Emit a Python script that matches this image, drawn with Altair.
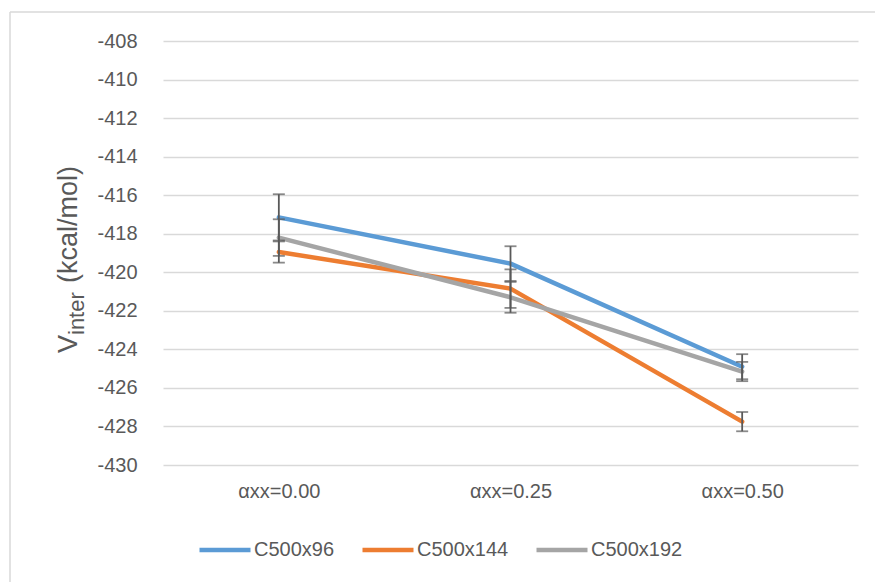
import altair as alt
import pandas as pd

categories = ["αxx=0.00", "αxx=0.25", "αxx=0.50"]
series_names = ["C500x96", "C500x144", "C500x192"]
series_colors = ["#5B9BD5", "#ED7D31", "#A5A5A5"]
values_c96 = [-417.15, -419.55, -424.9]
values_c144 = [-418.95, -420.85, -427.75]
values_c192 = [-418.2, -421.3, -425.15]
errors_c96 = [1.2, 0.9, 0.65]
errors_c144 = [0.55, 1.0, 0.5]
errors_c192 = [0.95, 0.8, 0.5]
y_ticks = [-430, -428, -426, -424, -422, -420, -418, -416, -414, -412, -410, -408]

rows = []
for name, vals, errs in [("C500x96", values_c96, errors_c96),
                         ("C500x144", values_c144, errors_c144),
                         ("C500x192", values_c192, errors_c192)]:
    for i, (c, v, e) in enumerate(zip(categories, vals, errs)):
        rows.append({"series": name, "cat": c, "order": i, "v": v,
                     "lo": v - e, "hi": v + e})
df = pd.DataFrame(rows)

FONT = "Liberation Sans"
TXT = "#595959"

x_scale = alt.Scale(type="point", padding=0.5)
y_scale = alt.Scale(domain=[-430, -408], nice=False, zero=False)

x_axis = alt.Axis(title=None, domain=False, ticks=False, grid=False, labelFontSize=20,
                  labelColor=TXT, labelFont=FONT, labelPadding=16, labelAngle=0)
y_axis = alt.Axis(values=y_ticks, title=None, domain=False, ticks=False,
                  grid=True, gridColor="#D9D9D9", gridWidth=1.5,
                  labelOverlap=False, labelExpr="toString(datum.value)",
                  labelFontSize=20, labelColor=TXT, labelFont=FONT, labelPadding=26)

x_enc = alt.X("cat:N", sort=categories, scale=x_scale, axis=x_axis)

lines = alt.Chart(df).mark_line(strokeWidth=4.5, strokeCap="round", strokeJoin="round").encode(
    x=x_enc,
    y=alt.Y("v:Q", scale=y_scale, axis=y_axis),
    color=alt.Color("series:N", sort=series_names,
                    scale=alt.Scale(domain=series_names, range=series_colors),
                    legend=alt.Legend(title=None, orient="none", direction="horizontal",
                                      legendX=34, legendY=481, symbolType="stroke",
                                      symbolSize=2601, symbolStrokeWidth=4.5,
                                      labelFontSize=20, labelColor=TXT, labelFont=FONT,
                                      labelOffset=1, columnPadding=18)),
    detail="series:N",
    order="order:Q",
)

bars = alt.Chart(df).mark_rule(color="#595959", strokeWidth=1.8).encode(
    x=x_enc, y=alt.Y("lo:Q", scale=y_scale, axis=y_axis), y2="hi:Q")
caps_lo = alt.Chart(df).mark_tick(color="#595959", thickness=1.8, size=12).encode(
    x=x_enc, y=alt.Y("lo:Q", scale=y_scale, axis=y_axis))
caps_hi = alt.Chart(df).mark_tick(color="#595959", thickness=1.8, size=12).encode(
    x=x_enc, y=alt.Y("hi:Q", scale=y_scale, axis=y_axis))

title_base = alt.Chart(pd.DataFrame({"t": [0]}))
t_v = title_base.mark_text(angle=270, align="left", baseline="alphabetic", fontSize=27,
                           font=FONT, color=TXT).encode(
    text=alt.value("V"), x=alt.value(-86), y=alt.value(312))
t_sub = title_base.mark_text(angle=270, align="left", baseline="alphabetic", fontSize=22,
                             font=FONT, color=TXT).encode(
    text=alt.value("inter"), x=alt.value(-79), y=alt.value(294))
t_unit = title_base.mark_text(angle=270, align="left", baseline="alphabetic", fontSize=27,
                              font=FONT, color=TXT).encode(
    text=alt.value("(kcal/mol)"), x=alt.value(-86), y=alt.value(242))

frame_left = title_base.mark_rule(color="#D9D9D9", strokeWidth=1.5).encode(
    x=alt.value(-153), y=alt.value(-29), y2=alt.value(560))
frame_top = title_base.mark_rule(color="#D9D9D9", strokeWidth=1.5).encode(
    x=alt.value(-153), x2=alt.value(740), y=alt.value(-29))

chart = alt.layer(frame_left, frame_top, lines, bars, caps_lo, caps_hi, t_v, t_sub, t_unit).properties(
    width=695, height=424,
    padding={"left": 163, "top": 41, "right": 17, "bottom": 117},
    autosize="none",
    background="white",
).configure_view(strokeWidth=0, stroke="transparent")

chart.save("out.html", embed_options={"renderer": "svg", "actions": False})
